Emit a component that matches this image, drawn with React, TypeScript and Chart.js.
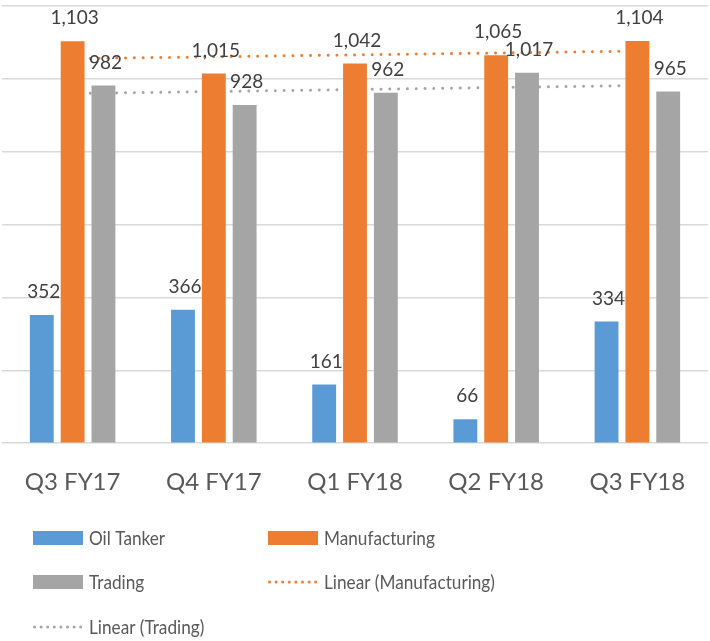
import React, { useEffect, useRef } from "react";
import { Chart, registerables } from "chart.js";

Chart.register(...registerables);

const categories = ["Q3 FY17", "Q4 FY17", "Q1 FY18", "Q2 FY18", "Q3 FY18"];
const oilTanker = [352, 366, 161, 66, 334];
const manufacturing = [1103, 1015, 1042, 1065, 1104];
const trading = [982, 928, 962, 1017, 965];
const yTicks = [0, 200, 400, 600, 800, 1000, 1200];

const BLUE = "#5B9BD5";
const ORANGE = "#ED7D31";
const GRAY = "#A5A5A5";
const TEXT = "#595959";
const LABEL = "#404040";
const FONT = "Lato, 'Open Sans', sans-serif";

function linearTrend(values: number[]): number[] {
  const n = values.length;
  const xs = values.map((_, i) => i + 1);
  const mx = xs.reduce((a, b) => a + b, 0) / n;
  const my = values.reduce((a, b) => a + b, 0) / n;
  let num = 0;
  let den = 0;
  for (let i = 0; i < n; i++) {
    num += (xs[i] - mx) * (values[i] - my);
    den += (xs[i] - mx) * (xs[i] - mx);
  }
  const slope = num / den;
  return xs.map((x) => my + slope * (x - mx));
}

const legendItems = [
  { label: "Oil Tanker", kind: "box", color: BLUE, col: 0, row: 0 },
  { label: "Manufacturing", kind: "box", color: ORANGE, col: 1, row: 0 },
  { label: "Trading", kind: "box", color: GRAY, col: 0, row: 1 },
  { label: "Linear (Manufacturing)", kind: "dots", color: ORANGE, col: 1, row: 1 },
  { label: "Linear (Trading)", kind: "dots", color: GRAY, col: 0, row: 2 },
];

const dataLabelPlugin = {
  id: "dataLabels",
  afterDatasetsDraw(chart: any) {
    const ctx = chart.ctx;
    ctx.save();
    ctx.font = `19px ${FONT}`;
    ctx.fillStyle = LABEL;
    ctx.textAlign = "center";
    ctx.textBaseline = "middle";
    chart.data.datasets.forEach((ds: any, di: number) => {
      if (ds.type === "line") return;
      const meta = chart.getDatasetMeta(di);
      meta.data.forEach((el: any, i: number) => {
        const v = ds.data[i];
        ctx.fillText(v.toLocaleString("en-US"), el.x + 2, el.y - 23);
      });
    });
    ctx.restore();
  },
};

const legendPlugin = {
  id: "customLegend",
  afterDraw(chart: any) {
    const ctx = chart.ctx;
    const colX = [33, 268];
    const rowY = [538, 582, 627];
    ctx.save();
    ctx.font = `20px ${FONT}`;
    ctx.textBaseline = "middle";
    ctx.textAlign = "left";
    legendItems.forEach((it) => {
      const x = colX[it.col];
      const y = rowY[it.row];
      if (it.kind === "box") {
        ctx.fillStyle = it.color;
        ctx.fillRect(x, y - 7, 50, 14);
      } else {
        ctx.fillStyle = it.color;
        for (let k = 0; k < 8; k++) {
          ctx.beginPath();
          ctx.arc(x + 1.5 + k * 6.6, y, 1.5, 0, Math.PI * 2);
          ctx.fill();
        }
      }
      ctx.fillStyle = TEXT;
      const w = ctx.measureText(it.label).width;
      ctx.fillText(it.label, x + 56, y + 1, w * 0.86);
    });
    ctx.restore();
  },
};

export default function App() {
  const ref = useRef<HTMLCanvasElement>(null);

  useEffect(() => {
    document.body.style.margin = "0";
    document.body.style.overflow = "hidden";
    if (!ref.current) return;
    const chart = new Chart(ref.current, {
      type: "bar",
      data: {
        labels: categories,
        datasets: [
          {
            type: "bar",
            label: "Oil Tanker",
            data: oilTanker,
            backgroundColor: BLUE,
            order: 1,
          },
          {
            type: "bar",
            label: "Manufacturing",
            data: manufacturing,
            backgroundColor: ORANGE,
            order: 1,
          },
          {
            type: "bar",
            label: "Trading",
            data: trading,
            backgroundColor: GRAY,
            order: 1,
          },
          {
            type: "line",
            label: "Linear (Manufacturing)",
            data: linearTrend(manufacturing),
            borderColor: ORANGE,
            borderWidth: 3,
            borderDash: [0.01, 8.8],
            borderCapStyle: "round",
            pointRadius: 0,
            fill: false,
            order: 5,
          } as any,
          {
            type: "line",
            label: "Linear (Trading)",
            data: linearTrend(trading),
            borderColor: GRAY,
            borderWidth: 3,
            borderDash: [0.01, 8.8],
            borderCapStyle: "round",
            pointRadius: 0,
            fill: false,
            order: 5,
          } as any,
        ],
      },
      options: {
        animation: false,
        responsive: true,
        maintainAspectRatio: false,
        layout: { padding: { top: 6, left: 0, right: 0, bottom: 119 } },
        datasets: {
          bar: { categoryPercentage: 0.655, barPercentage: 0.774 },
        },
        plugins: {
          legend: { display: false },
          tooltip: { enabled: false },
        },
        scales: {
          x: {
            grid: { display: false, drawTicks: false },
            border: { display: false },
            ticks: {
              color: TEXT,
              font: { family: FONT, size: 24 },
              padding: 25,
              maxRotation: 0,
            },
          },
          y: {
            min: yTicks[0],
            max: yTicks[yTicks.length - 1],
            afterBuildTicks: (axis: any) => {
              axis.ticks = yTicks.map((v) => ({ value: v }));
            },
            ticks: { display: false },
            grid: { color: "#D9D9D9", lineWidth: 1.5, drawTicks: false },
            border: { display: false },
          },
        },
      },
      plugins: [dataLabelPlugin, legendPlugin],
    });
    return () => chart.destroy();
  }, []);

  return (
    <div style={{ width: 710, height: 641, position: "relative" }}>
      <canvas ref={ref} />
    </div>
  );
}
